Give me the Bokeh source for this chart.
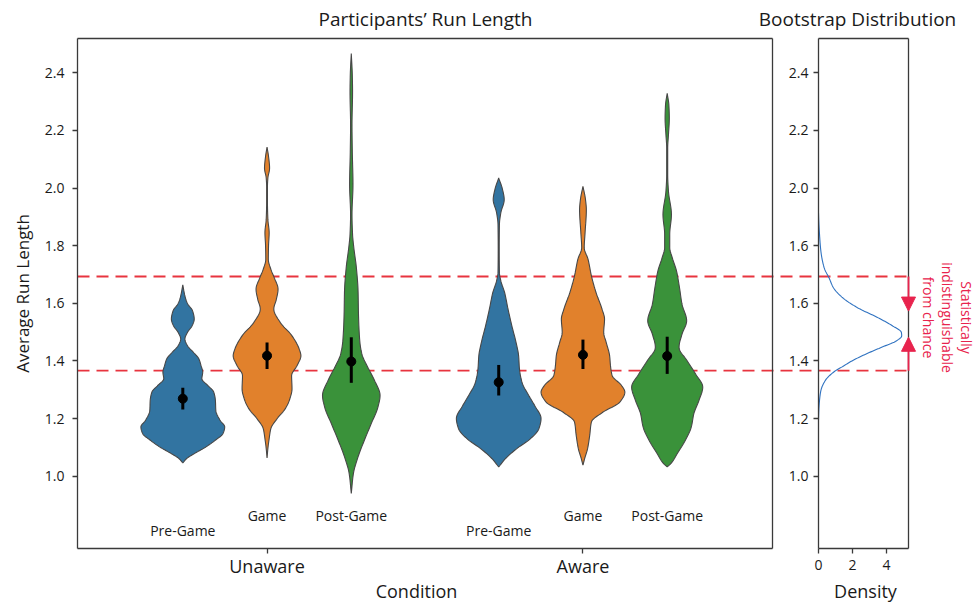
import numpy as np
from bokeh.plotting import figure
from bokeh.models import Range1d, LinearAxis, FixedTicker, Label, Arrow, NormalHead
from bokeh.embed import file_html
from bokeh.resources import INLINE
from bokeh.core.properties import value

# ---------------- data ----------------
conditions = ["Unaware", "Aware"]
phases = ["Pre-Game", "Game", "Post-Game"]

unaware_pre_y = [1.046, 1.061, 1.079, 1.101, 1.125, 1.148, 1.171, 1.194, 1.228, 1.263,
                 1.292, 1.315, 1.338, 1.361, 1.384, 1.407, 1.430, 1.453, 1.476, 1.499,
                 1.522, 1.545, 1.574, 1.597, 1.610, 1.632, 1.664]
unaware_pre_density = [0, 0.09, 0.28, 0.54, 0.77, 0.95, 0.99, 0.88, 0.78, 0.77,
                       0.73, 0.59, 0.45, 0.47, 0.43, 0.38, 0.25, 0.11, 0.05, 0.11,
                       0.22, 0.27, 0.23, 0.12, 0.08, 0.04, 0]

unaware_game_y = [1.063, 1.096, 1.130, 1.165, 1.200, 1.234, 1.269, 1.303, 1.349, 1.384,
                  1.418, 1.441, 1.487, 1.534, 1.580, 1.614, 1.649, 1.689, 1.718, 1.753,
                  1.799, 1.845, 1.891, 1.948, 2.006, 2.035, 2.069, 2.110, 2.142]
unaware_game_density = [0, 0.02, 0.05, 0.09, 0.24, 0.43, 0.54, 0.59, 0.58, 0.71,
                        0.80, 0.76, 0.59, 0.31, 0.16, 0.22, 0.26, 0.17, 0.09, 0.03,
                        0.035, 0.05, 0.02, 0.01, 0.01, 0.02, 0.06, 0.035, 0]

unaware_post_y = [0.940, 1.009, 1.067, 1.125, 1.182, 1.240, 1.280, 1.332, 1.378, 1.424,
                  1.470, 1.562, 1.643, 1.724, 1.793, 1.839, 1.908, 2.012, 2.127, 2.219,
                  2.334, 2.392, 2.467]
unaware_post_density = [0, 0.05, 0.16, 0.31, 0.47, 0.63, 0.68, 0.55, 0.39, 0.25,
                        0.20, 0.17, 0.16, 0.12, 0.06, 0.03, 0.017, 0.04, 0.024, 0.017,
                        0.03, 0.024, 0]

aware_pre_y = [1.032, 1.061, 1.096, 1.130, 1.165, 1.200, 1.245, 1.280, 1.326, 1.372,
               1.418, 1.464, 1.522, 1.580, 1.637, 1.678, 1.706, 1.787, 1.874, 1.914,
               1.960, 1.995, 2.035]
aware_pre_density = [0, 0.16, 0.43, 0.75, 0.95, 1.00, 0.85, 0.71, 0.55, 0.49,
                     0.47, 0.41, 0.31, 0.22, 0.14, 0.05, 0.017, 0.012, 0.017, 0.05,
                     0.13, 0.09, 0]

aware_game_y = [1.038, 1.061, 1.096, 1.142, 1.188, 1.222, 1.257, 1.292, 1.315, 1.349,
                1.384, 1.418, 1.464, 1.499, 1.545, 1.580, 1.637, 1.695, 1.753, 1.793,
                1.845, 1.925, 1.960, 2.006]
aware_game_density = [0, 0.04, 0.11, 0.16, 0.20, 0.47, 0.87, 0.99, 0.91, 0.69,
                      0.65, 0.63, 0.55, 0.49, 0.51, 0.45, 0.31, 0.20, 0.12, 0.03,
                      0.05, 0.08, 0.06, 0]

aware_post_y = [1.032, 1.044, 1.079, 1.125, 1.171, 1.217, 1.263, 1.309, 1.355, 1.401,
                1.447, 1.493, 1.539, 1.597, 1.655, 1.712, 1.758, 1.793, 1.839, 1.908,
                1.989, 2.046, 2.139, 2.185, 2.242, 2.288, 2.329]
aware_post_density = [0, 0.09, 0.24, 0.43, 0.57, 0.63, 0.75, 0.84, 0.67, 0.47,
                      0.28, 0.35, 0.46, 0.35, 0.29, 0.22, 0.12, 0.06, 0.06, 0.10,
                      0.03, 0.012, 0.012, 0.03, 0.05, 0.04, 0]

unaware_means = [1.269, 1.418, 1.398]
unaware_ci_low = [1.231, 1.372, 1.324]
unaware_ci_high = [1.307, 1.464, 1.482]
aware_means = [1.326, 1.421, 1.417]
aware_ci_low = [1.280, 1.372, 1.355]
aware_ci_high = [1.386, 1.474, 1.484]

chance_low = 1.366
chance_high = 1.693

boot_y = [1.193, 1.230, 1.263, 1.297, 1.332, 1.366, 1.378, 1.401, 1.424, 1.447,
          1.470, 1.487, 1.499, 1.522, 1.551, 1.585, 1.620, 1.654, 1.687, 1.724,
          1.781, 1.839, 1.880, 1.913]
boot_density = [0, 0.02, 0.06, 0.14, 0.40, 1.00, 1.35, 2.00, 2.80, 3.70,
                4.60, 4.90, 4.88, 4.35, 3.47, 2.29, 1.41, 0.88, 0.63, 0.33,
                0.14, 0.06, 0.02, 0]

y_ticks = [1.0, 1.2, 1.4, 1.6, 1.8, 2.0, 2.2, 2.4]
main_y_tick_labels = ["1.0", "1.2", "1.4", "1.6", "1.8", "2.0", "2.2", "2.4"]
boot_y_tick_labels = ["1.0", "1.2", "1.4", "1.6", "1.6", "2.0", "2.2", "2.4"]
density_ticks = [0, 2, 4]

profiles = {
    "Unaware": [(unaware_pre_y, unaware_pre_density), (unaware_game_y, unaware_game_density),
                (unaware_post_y, unaware_post_density)],
    "Aware": [(aware_pre_y, aware_pre_density), (aware_game_y, aware_game_density),
              (aware_post_y, aware_post_density)],
}
stats = {
    "Unaware": (unaware_means, unaware_ci_low, unaware_ci_high),
    "Aware": (aware_means, aware_ci_low, aware_ci_high),
}

# ---------------- style / geometry ----------------
FONT = "Open Sans"
TEXT = "#1a1a1a"
SPINE = "#3a3a3a"
EDGE = "#474747"
DASH_RED = "#e8343f"
NOTE_RED = "#e8234d"
phase_colors = ["#3274a1", "#e1812c", "#3a923a"]

W, H = 976, 603
FRAME_L, FRAME_T, FRAME_B = 77, 38, 548
MAIN_R = 772
BOOT_L, BOOT_R = 818, 908

y_lo, y_hi = 0.749, 2.519
main_lo, main_hi = -0.6, 1.6
dens_hi = 5.3

ppu_y = (FRAME_B - FRAME_T) / (y_hi - y_lo)
main_ppu = (MAIN_R - FRAME_L) / (main_hi - main_lo)
dens_ppu = (BOOT_R - BOOT_L) / dens_hi


def yd(py):
    return y_hi - (py - FRAME_T) / ppu_y


def xm(px):
    return main_lo + (px - FRAME_L) / main_ppu


def xd(px):
    return (px - BOOT_L) / dens_ppu


HUE_OFFSET = 0.8 / 3
VIOLIN_SCALE = 0.134


def pchip(x, y, xn):
    x = np.asarray(x, float)
    y = np.asarray(y, float)
    h = np.diff(x)
    delta = np.diff(y) / h
    n = len(x)
    d = np.zeros(n)
    for k in range(1, n - 1):
        if delta[k - 1] * delta[k] > 0:
            w1 = 2 * h[k] + h[k - 1]
            w2 = h[k] + 2 * h[k - 1]
            d[k] = (w1 + w2) / (w1 / delta[k - 1] + w2 / delta[k])
    d[0] = delta[0]
    d[-1] = delta[-1]
    idx = np.clip(np.searchsorted(x, xn) - 1, 0, n - 2)
    t = (xn - x[idx]) / h[idx]
    h00 = 2 * t**3 - 3 * t**2 + 1
    h10 = t**3 - 2 * t**2 + t
    h01 = -2 * t**3 + 3 * t**2
    h11 = t**3 - t**2
    return h00 * y[idx] + h10 * h[idx] * d[idx] + h01 * y[idx + 1] + h11 * h[idx] * d[idx + 1]


def smooth(ys, ds, n=300):
    yy = np.linspace(ys[0], ys[-1], n)
    dd = np.clip(pchip(ys, ds, yy), 0, None)
    return yy, dd


p = figure(width=W, height=H, title=None,
           x_range=Range1d(xm(0), xm(W)), y_range=Range1d(yd(H), yd(0)),
           x_axis_type=None, y_axis_type=None, output_backend="svg", toolbar_location=None,
           min_border_left=0, min_border_right=0, min_border_top=0, min_border_bottom=0)
p.extra_x_ranges = {"dens": Range1d(xd(0), xd(W))}
p.outline_line_color = None
p.background_fill_color = "white"
p.border_fill_color = "white"


def make_axis(**kw):
    base = dict(axis_line_color=SPINE, axis_line_width=1.3, major_tick_line_color=SPINE,
                major_tick_line_width=1.3, major_tick_out=5, major_tick_in=0,
                minor_tick_line_color=None, major_label_text_font=FONT,
                major_label_text_font_size="14px", major_label_text_color=TEXT)
    base.update(kw)
    return LinearAxis(**base)


def spine(**kw):
    return make_axis(ticker=FixedTicker(ticks=[]), major_tick_line_color=None, **kw)


# main panel axes
p.add_layout(make_axis(fixed_location=main_lo, bounds=(y_lo, y_hi),
                       ticker=FixedTicker(ticks=y_ticks),
                       major_label_overrides=dict(zip(y_ticks, main_y_tick_labels)),
                       major_label_standoff=8), "left")
p.add_layout(make_axis(fixed_location=y_lo, bounds=(main_lo, main_hi),
                       ticker=FixedTicker(ticks=[0, 1]),
                       major_label_overrides={0: conditions[0], 1: conditions[1]},
                       major_label_text_font_size="18px", major_label_standoff=0), "below")
p.add_layout(spine(fixed_location=y_hi, bounds=(main_lo, main_hi)), "above")
p.add_layout(spine(fixed_location=main_hi, bounds=(y_lo, y_hi)), "right")

# bootstrap panel axes
p.add_layout(make_axis(x_range_name="dens", fixed_location=0, bounds=(y_lo, y_hi),
                       ticker=FixedTicker(ticks=y_ticks),
                       major_label_overrides=dict(zip(y_ticks, boot_y_tick_labels)),
                       major_label_standoff=5), "left")
p.add_layout(make_axis(x_range_name="dens", fixed_location=y_lo, bounds=(0, dens_hi),
                       ticker=FixedTicker(ticks=density_ticks), major_label_standoff=6), "below")
p.add_layout(spine(x_range_name="dens", fixed_location=y_hi, bounds=(0, dens_hi)), "above")
p.add_layout(spine(x_range_name="dens", fixed_location=dens_hi, bounds=(y_lo, y_hi)), "right")

# chance band dashed lines (across both panels)
for level in (chance_low, chance_high):
    p.line(x=[xd(FRAME_L), dens_hi], y=[level, level], x_range_name="dens",
           line_color=DASH_RED, line_width=1.8, line_dash="12 7")

# violins + mean / CI
label_y = {"Pre-Game": yd(530), "Game": yd(515), "Post-Game": yd(515)}
for ci, cond in enumerate(conditions):
    means, lows, highs = stats[cond]
    for hi, ph in enumerate(phases):
        ys, ds = profiles[cond][hi]
        yy, dd = smooth(ys, ds)
        xc = ci + (hi - 1) * HUE_OFFSET
        hw = dd * VIOLIN_SCALE
        xs = np.concatenate([xc + hw, (xc - hw)[::-1]])
        yv = np.concatenate([yy, yy[::-1]])
        p.patch(xs, yv, fill_color=phase_colors[hi], line_color=EDGE, line_width=1.1)
    xcs = [ci + (hi - 1) * HUE_OFFSET for hi in range(3)]
    p.segment(x0=xcs, y0=lows, x1=xcs, y1=highs, line_color="black", line_width=3)
    p.scatter(x=xcs, y=means, size=9, color="black")
    p.text(x=xcs, y=[label_y[ph] for ph in phases], text=phases,
           text_font=value(FONT), text_font_size=value("14px"), text_color=TEXT,
           text_align="center", text_baseline="middle")

# bootstrap distribution curve
by, bd = smooth(boot_y, boot_density)
p.line(x=bd, y=by, x_range_name="dens", line_color="#2f72c0", line_width=1.1)

# annotation arrows
for y0, y1 in ((chance_high, 1.573), (chance_low, 1.482)):
    p.add_layout(Arrow(x_start=dens_hi, y_start=y0, x_end=dens_hi, y_end=y1, x_range_name="dens",
                       line_color=NOTE_RED, line_width=1.8,
                       end=NormalHead(size=14, fill_color=NOTE_RED, line_color=NOTE_RED)))

note_lines = ["Statistically", "indistinguishable", "from chance"]
note_px = [966, 947, 928]
for t, px in zip(note_lines, note_px):
    p.add_layout(Label(x=xd(px), y=yd(317), x_range_name="dens", text=t, angle=-np.pi / 2,
                       text_align="center", text_baseline="middle", text_font=FONT,
                       text_font_size="14px", text_color=NOTE_RED))

# titles and axis titles
p.add_layout(Label(x=xm(425), y=yd(18), text="Participants’ Run Length",
                   text_align="center", text_baseline="middle", text_font=FONT,
                   text_font_size="19px", text_color=TEXT))
p.add_layout(Label(x=xd(857), y=yd(18), x_range_name="dens",
                   text="Bootstrap Distribution", text_align="center", text_baseline="middle",
                   text_font=FONT, text_font_size="19px", text_color=TEXT))
p.add_layout(Label(x=xm(416), y=yd(590), text="Condition",
                   text_align="center", text_baseline="middle", text_font=FONT,
                   text_font_size="18px", text_color=TEXT))
p.add_layout(Label(x=xd(865), y=yd(590), x_range_name="dens", text="Density",
                   text_align="center", text_baseline="middle", text_font=FONT,
                   text_font_size="18px", text_color=TEXT))
p.add_layout(Label(x=xm(22), y=yd(293), text="Average Run Length", angle=np.pi / 2,
                   text_align="center", text_baseline="middle", text_font=FONT,
                   text_font_size="17px", text_color=TEXT))

open("out.html", "w").write(file_html(p, INLINE))
